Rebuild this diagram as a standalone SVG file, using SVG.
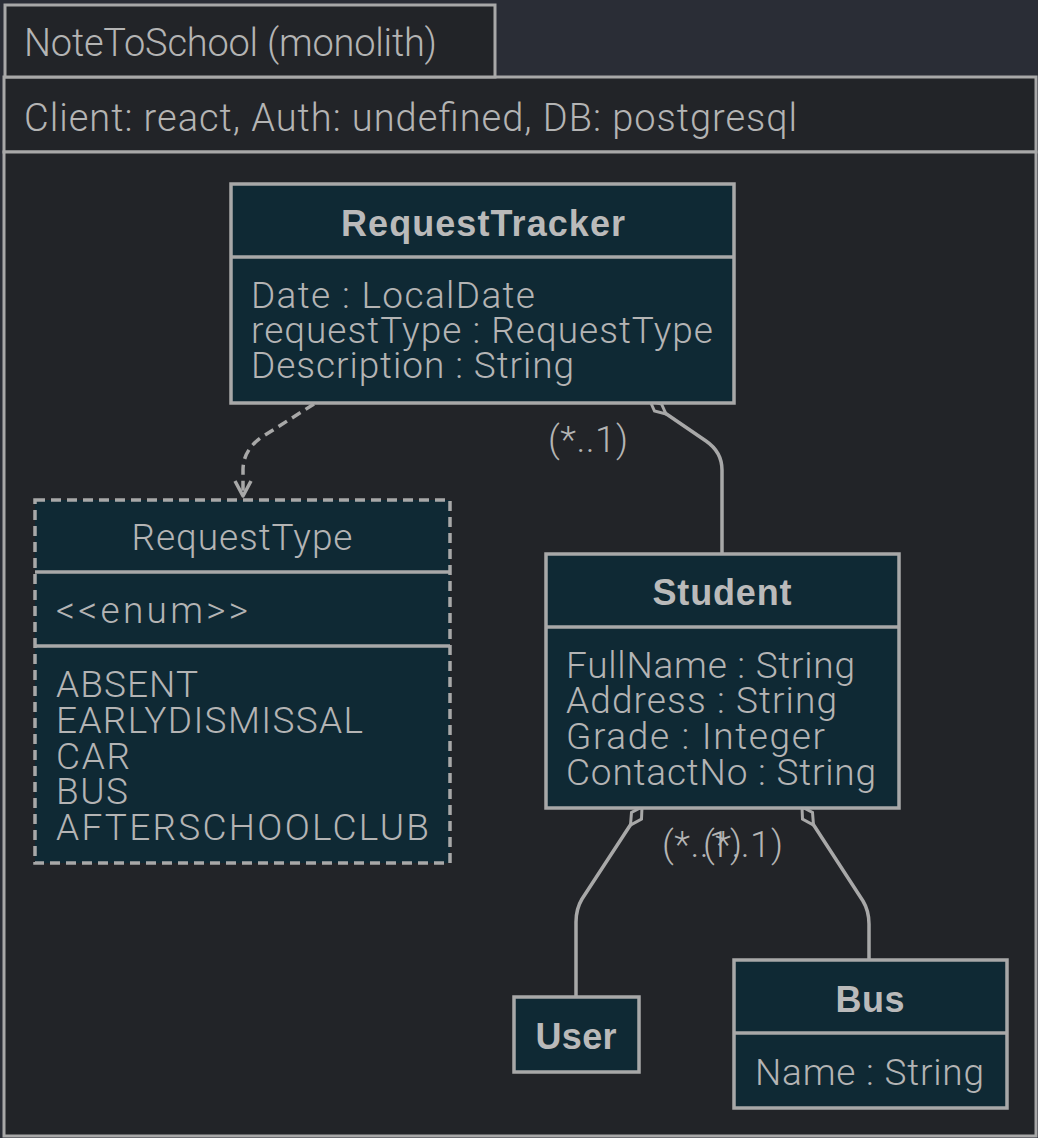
<svg xmlns="http://www.w3.org/2000/svg" width="1038" height="1138" viewBox="0 0 1038 1138">
<style>
.t{font-family:Roboto,'Liberation Sans',sans-serif;font-weight:300;font-size:37px;fill:#b4b4b4}
.h{font-family:Roboto,'Liberation Sans',sans-serif;font-weight:300;font-size:38px;fill:#b4b4b4}
.b{font-family:'Liberation Sans',Arial,sans-serif;font-weight:bold;font-size:36px;fill:#bababa;text-anchor:middle}
.box{fill:#0f2934;stroke:#a8a8a8;stroke-width:3.5}
.dash{stroke-dasharray:10 6}
.sep{stroke:#a8a8a8;stroke-width:3.5}
.frame{fill:#222428;stroke:#a8a8a8;stroke-width:3}
.edge{fill:none;stroke:#a8a8a8;stroke-width:3.5;stroke-linejoin:round}
.dia{fill:#222428;stroke:#a8a8a8;stroke-width:3}
</style>
<rect x="0" y="0" width="1038" height="1138" fill="#2a2d36"/>
<g id="frame">
  <rect class="frame" x="4" y="77" width="1032" height="75"/>
  <rect class="frame" x="4" y="152" width="1032" height="984"/>
  <rect class="frame" x="5" y="5" width="490" height="72"/>
  <text class="h" x="24" y="56" textLength="413">NoteToSchool (monolith)</text>
  <text class="h" x="24" y="131" textLength="773">Client: react, Auth: undefined, DB: postgresql</text>
</g>
<g id="connectors">
  <path class="edge dash" d="M 314 404 L 262 437 Q 243 450 243 470 L 243 492"/>
  <path class="edge" d="M 235 481 L 243 496 L 251 481"/>
  <path class="edge" d="M 665 413 L 706 441 Q 722 452 722 470 L 722 554"/>
  <path class="dia" d="M 650 401 L 654.5 411 L 666 414 L 661.5 404 Z"/>
  <text class="t" x="548" y="452" textLength="80">(*..1)</text>
  <path class="edge" d="M 631 824 L 582 899 Q 576 909 576 922 L 576 997"/>
  <path class="dia" d="M 642 807 L 641.5 819 L 630.5 825 L 631.5 812.5 Z"/>
  <path class="edge" d="M 813 824 L 863 901 Q 869 911 869 924 L 869 960"/>
  <path class="dia" d="M 802 807 L 802.5 819 L 813.5 825 L 812.5 812.5 Z"/>
  <text class="t" x="662" y="857" textLength="80">(*..1)</text>
  <text class="t" x="703" y="857" textLength="80">(*..1)</text>
</g>
<g id="RequestTracker">
  <rect class="box" x="231" y="184" width="503" height="219"/>
  <line class="sep" x1="231" y1="257" x2="734" y2="257"/>
  <text class="b" x="483" y="236" textLength="284">RequestTracker</text>
  <text class="t" x="251" y="308" textLength="284">Date : LocalDate</text>
  <text class="t" x="251" y="343" textLength="462">requestType : RequestType</text>
  <text class="t" x="251" y="378" textLength="323">Description : String</text>
</g>
<g id="RequestType">
  <rect class="box dash" x="35" y="500" width="415" height="363"/>
  <line class="sep" x1="35" y1="572" x2="450" y2="572"/>
  <line class="sep" x1="35" y1="646" x2="450" y2="646"/>
  <text class="t" x="242" y="550" text-anchor="middle" textLength="221">RequestType</text>
  <text class="t" x="56" y="623" textLength="192">&lt;&lt;enum&gt;&gt;</text>
  <text class="t" x="56" y="697" textLength="142">ABSENT</text>
  <text class="t" x="56" y="733" textLength="307">EARLYDISMISSAL</text>
  <text class="t" x="56" y="769" textLength="74">CAR</text>
  <text class="t" x="56" y="804" textLength="72">BUS</text>
  <text class="t" x="56" y="840" textLength="373">AFTERSCHOOLCLUB</text>
</g>
<g id="Student">
  <rect class="box" x="546" y="554" width="353" height="254"/>
  <line class="sep" x1="546" y1="627" x2="899" y2="627"/>
  <text class="b" x="722" y="605" textLength="139">Student</text>
  <text class="t" x="566" y="678" textLength="289">FullName : String</text>
  <text class="t" x="566" y="713" textLength="271">Address : String</text>
  <text class="t" x="566" y="749" textLength="259">Grade : Integer</text>
  <text class="t" x="566" y="785" textLength="310">ContactNo : String</text>
</g>
<g id="User">
  <rect class="box" x="514" y="997" width="125" height="75"/>
  <text class="b" x="576" y="1049" textLength="81">User</text>
</g>
<g id="Bus">
  <rect class="box" x="734" y="960" width="273" height="148"/>
  <line class="sep" x1="734" y1="1033" x2="1007" y2="1033"/>
  <text class="b" x="870" y="1012" textLength="69">Bus</text>
  <text class="t" x="755" y="1085" textLength="229">Name : String</text>
</g>
</svg>
